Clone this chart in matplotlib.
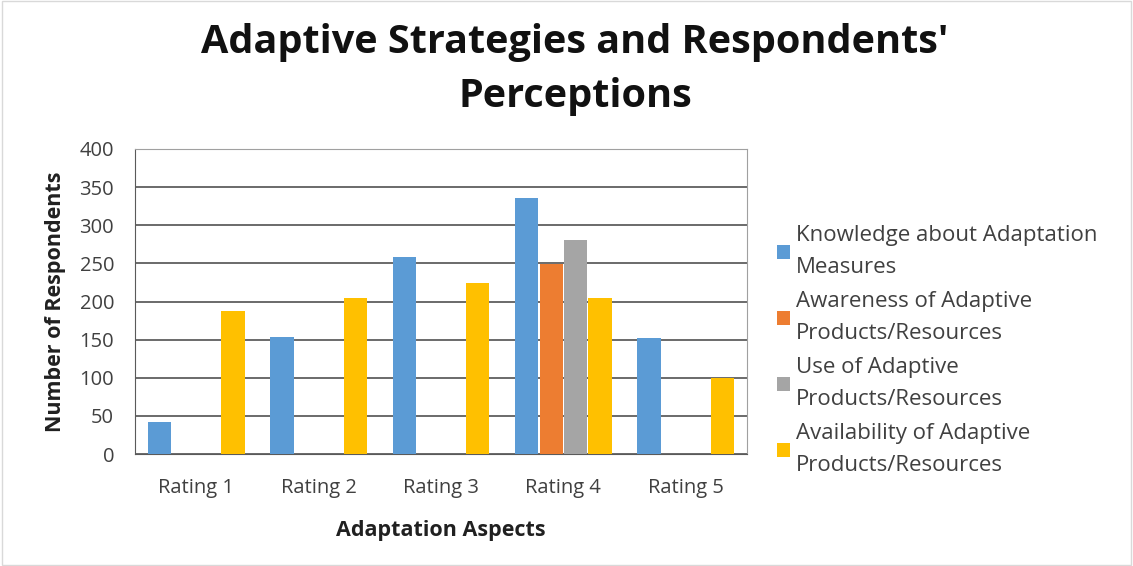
import matplotlib
matplotlib.use("Agg")
import matplotlib.pyplot as plt
import numpy as np
from matplotlib.patches import Rectangle

plt.rcParams['font.family'] = ['Open Sans', 'DejaVu Sans']

categories = ["Rating 1", "Rating 2", "Rating 3", "Rating 4", "Rating 5"]
series_names = ["Knowledge about Adaptation\nMeasures",
                "Awareness of Adaptive\nProducts/Resources",
                "Use of Adaptive\nProducts/Resources",
                "Availability of Adaptive\nProducts/Resources"]
knowledge = [42, 153, 259, 336, 152]
awareness = [0, 0, 0, 249, 0]
use = [0, 0, 0, 281, 0]
availability = [187, 204, 224, 204, 100]
colors = ["#5B9BD5", "#ED7D31", "#A5A5A5", "#FFC000"]

W, H = 1133, 566
fig = plt.figure(figsize=(W / 100, H / 100), dpi=100)
fig.patches.append(Rectangle((0.002, 0.002), 0.996, 0.996, transform=fig.transFigure,
                             fill=False, edgecolor="#D9D9D9", linewidth=1))
ax = fig.add_axes([135 / W, 1 - 454 / H, (747 - 135) / W, (454 - 149) / H])

x = np.arange(len(categories))
data = [knowledge, awareness, use, availability]
offsets = [-0.3, -0.1, 0.1, 0.3]
handles = []
for vals, off, c, name in zip(data, offsets, colors, series_names):
    b = ax.bar(x + off, vals, width=0.19, color=c, label=name, zorder=3)
    handles.append(b)

ax.set_xlim(-0.5, 4.5)
ax.set_ylim(0, 400)
ax.set_yticks(np.arange(0, 401, 50))
ax.yaxis.grid(True, color="#6A6A6A", linewidth=1.4, zorder=0)
ax.set_axisbelow(True)
for s in ["top", "right"]:
    ax.spines[s].set_color("#A0A0A0")
ax.spines["left"].set_color("#5A5A5A")
ax.spines["bottom"].set_color("#5A5A5A")
ax.tick_params(axis="both", length=0, labelsize=14.5, colors="#404040")
ax.tick_params(axis="x", pad=17)
ax.tick_params(axis="y", pad=15)
ax.set_xticks(x)
ax.set_xticklabels(categories)

ax.set_xlabel("Adaptation Aspects", fontsize=15.5, fontweight="bold", labelpad=16, color="#202020")
ax.set_ylabel("Number of Respondents", fontsize=15.5, fontweight="bold", labelpad=10, color="#202020")

fig.text(575 / W, 1 - 42 / H, "Adaptive Strategies and Respondents'", ha="center", va="center",
         fontsize=28.5, fontweight="bold", color="#111111")
fig.text(575 / W, 1 - 97 / H, "Perceptions", ha="center", va="center",
         fontsize=28.5, fontweight="bold", color="#111111")

leg = fig.legend(handles=handles, labels=series_names, loc="upper left",
                 bbox_to_anchor=(768 / W, 1 - 216 / H), frameon=False,
                 fontsize=16, handlelength=0.6, handleheight=0.6, handletextpad=0.25,
                 labelspacing=0.58, labelcolor="#404040", borderaxespad=0)
for t in leg.get_texts():
    t.set_linespacing(1.7)

fig.savefig("out.png", dpi=100)
